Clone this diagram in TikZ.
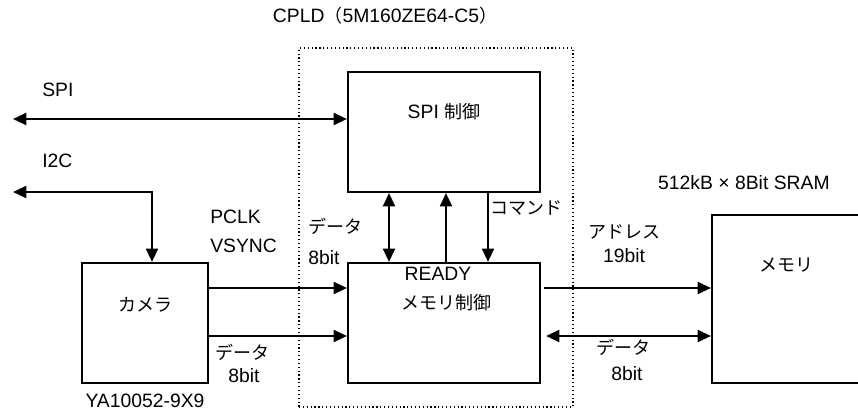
\documentclass[tikz,border=0pt]{standalone}
\usepackage{fontspec}
\setmainfont{Liberation Sans}
\newfontfamily\jpfont{Noto Sans CJK JP}
\newcommand{\jtext}[1]{{\jpfont\fontsize{13.5}{16}\selectfont #1}}
\usetikzlibrary{arrows.meta,positioning,calc}

\begin{document}
\begin{tikzpicture}[
    x=0.75pt, y=-0.75pt,
    every node/.style={font=\fontsize{14.5}{17}\selectfont},
    block/.style={rectangle, draw, line width=1.6pt, inner sep=0pt},
    cpldbox/.style={rectangle, draw, dotted, line width=0.9pt, inner sep=0pt},
    lbl/.style={inner sep=0pt},
    arrow/.style={line width=1.6pt, -{Triangle[length=10pt,width=9pt]}},
    biarrow/.style={line width=1.6pt, {Triangle[length=10pt,width=9pt]}-{Triangle[length=10pt,width=9pt]}}
]
\clip (0,0) rectangle (858,411);

% CPLD boundary
\node [cpldbox, minimum width=205.5pt, minimum height=269.25pt] at (436,227.5) (cpld) {};
\node [lbl] at ($(cpld.north)+(-51,-32)$) {CPLD\jtext{（}5M160ZE64-C5\jtext{）}};

% Blocks
\node [block, minimum width=144pt, minimum height=90pt] at (444,132) (spictl) {};
\node [block, minimum width=144pt, minimum height=90pt] at (444,323) (memctrl) {};
\node [block, minimum width=94.5pt, minimum height=90pt] at (145,323) (camera) {};
\node [block, minimum width=187.5pt, minimum height=126pt] at (837,299) (memory) {};

% Block texts
\node [lbl] at ($(spictl.center)+(0,-20)$) {SPI \jtext{制御}};
\node [lbl] at ($(memctrl.north)+(-6,12)$) {READY};
\node [lbl] at ($(memctrl.center)+(2,-20)$) {\jtext{メモリ制御}};
\node [lbl] at ($(camera.center)+(0,-18)$) {\jtext{カメラ}};
\node [lbl] at ($(camera.south)+(0,17)$) {YA10052-9X9};
\node [lbl] at ($(memory.west)+(76,-34)$) {\jtext{メモリ}};
\node [lbl] at ($(memory.north west)+(33,-31)$) {512kB × 8Bit SRAM};

% External buses
\coordinate (spiend) at (13,119);
\coordinate (i2cend) at (13,192);
\coordinate (i2ccorner) at (152,192);
\draw [biarrow] (spiend) -- (spiend -| spictl.west);
\draw [biarrow] (i2cend) -- (i2ccorner) -- (i2ccorner |- camera.north);
\node [lbl, anchor=west] at (42,90) {SPI};
\node [lbl, anchor=west] at (42,161) {I2C};

% Camera to memory control
\draw [arrow] ($(camera.east)+(0,-35)$) -- ($(memctrl.west)+(0,-35)$);
\draw [arrow] ($(camera.east)+(0,13)$) -- ($(memctrl.west)+(0,13)$);
\node [lbl, anchor=west] at (210,217) {PCLK};
\node [lbl, anchor=west] at (210,246) {VSYNC};
\node [lbl] at (242,352) {\jtext{データ}};
\node [lbl] at (244,376) {8bit};

% SPI control <-> memory control
\draw [biarrow] ($(memctrl.north)+(-55,0)$) -- ($(spictl.south)+(-55,0)$);
\draw [arrow] ($(memctrl.north)+(2,0)$) -- ($(spictl.south)+(2,0)$);
\draw [arrow] ($(spictl.south)+(44,0)$) -- ($(memctrl.north)+(44,0)$);
\node [lbl, anchor=west] at (308,226) {\jtext{データ}};
\node [lbl, anchor=west] at (308,258) {8bit};
\node [lbl, anchor=west] at (490,208) {\jtext{コマンド}};

% Memory control to memory
\draw [arrow] ($(memctrl.east)+(3,-35)$) coordinate (addr) -- (addr -| memory.west);
\draw [biarrow] ($(memctrl.east)+(5,13)$) coordinate (dat) -- (dat -| memory.west);
\node [lbl] at (624,232) {\jtext{アドレス}};
\node [lbl] at (624,256) {19bit};
\node [lbl] at (623,347) {\jtext{データ}};
\node [lbl] at (627,374) {8bit};

\end{tikzpicture}
\end{document}
